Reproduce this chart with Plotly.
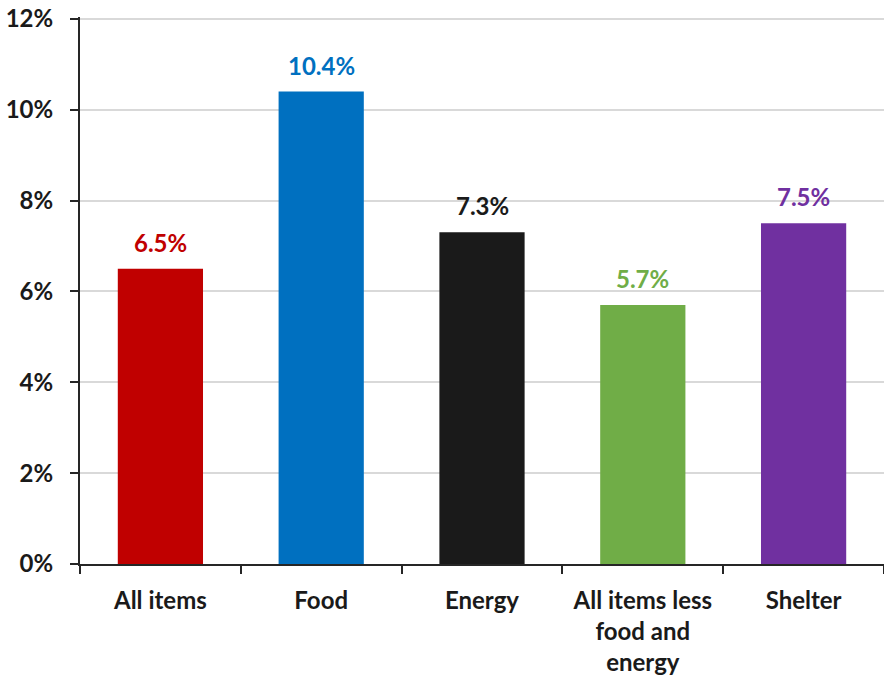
import plotly.graph_objects as go

categories = ["All items", "Food", "Energy", "All items less<br>food and<br>energy", "Shelter"]
values = [6.5, 10.4, 7.3, 5.7, 7.5]
labels = ["6.5%", "10.4%", "7.3%", "5.7%", "7.5%"]
colors = ["#C00000", "#0070C0", "#1A1A1A", "#70AD47", "#7030A0"]
yticks = [0, 2, 4, 6, 8, 10, 12]
yticklabels = ["0%", "2%", "4%", "6%", "8%", "10%", "12%"]

FONT = "Lato"
FS = 24

fig = go.Figure(go.Bar(
    x=categories, y=values, width=0.53,
    marker=dict(color=colors, line=dict(width=0)),
))

for c, v, t, col in zip(categories, values, labels, colors):
    fig.add_annotation(
        x=c, y=v, text=t, showarrow=False, yanchor="bottom", yshift=10,
        font=dict(family=FONT, size=FS, color=col, weight="bold"),
    )

fig.update_layout(
    width=884, height=677,
    margin=dict(l=80, r=0, t=17, b=113, autoexpand=False),
    plot_bgcolor="white", paper_bgcolor="white",
    showlegend=False,
    font=dict(family=FONT, size=FS, color="#1A1A1A", weight="bold"),
    xaxis=dict(
        showline=True, linecolor="#262626", linewidth=2,
        ticks="outside", ticklen=8, tickwidth=2, tickcolor="#262626",
        tickson="boundaries", ticklabelstandoff=14, automargin=False,
        tickfont=dict(family=FONT, size=FS, color="#1A1A1A", weight="bold"),
    ),
    yaxis=dict(
        range=[0, 12.04], tickvals=yticks, ticktext=yticklabels,
        showline=True, linecolor="#262626", linewidth=2,
        ticks="outside", ticklen=8, tickwidth=2, tickcolor="#262626",
        showgrid=True, gridcolor="#D9D9D9", gridwidth=2,
        zeroline=False, ticklabelstandoff=12, automargin=False,
        tickfont=dict(family=FONT, size=FS, color="#1A1A1A", weight="bold"),
    ),
)

fig.write_html(
    "out.html",
    config={"displayModeBar": False},
    post_script="document.body.style.margin='0';document.body.style.overflow='hidden';",
)
